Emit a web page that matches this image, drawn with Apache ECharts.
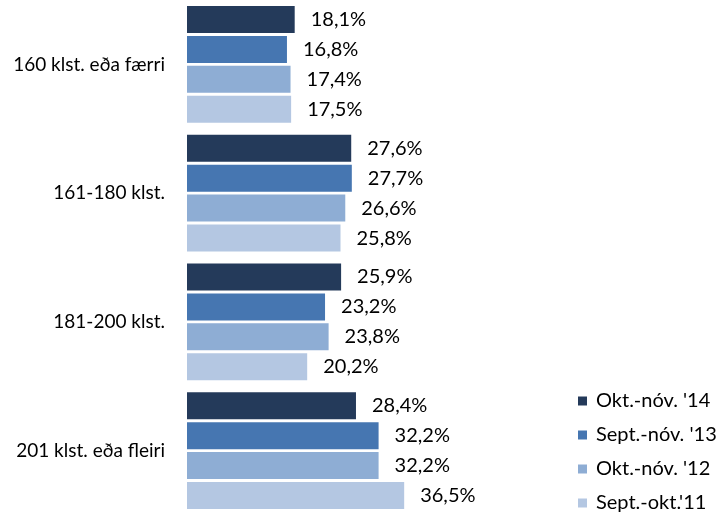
<!DOCTYPE html>
<html>
<head>
<meta charset="utf-8">
<script src="https://cdn.jsdelivr.net/npm/echarts@6/dist/echarts.min.js"></script>
<style>
html,body{margin:0;padding:0;background:#fff;}
#chart{width:724px;height:515px;}
</style>
</head>
<body>
<div id="chart"></div>
<script>
const categories = ['160 klst. eða færri', '161-180 klst.', '181-200 klst.', '201 klst. eða fleiri'];
const seriesNames = ["Okt.-nóv. '14", "Sept.-nóv. '13", "Okt.-nóv. '12", "Sept.-okt.'11"];
const okt14 = [18.1, 27.6, 25.9, 28.4];
const sept13 = [16.8, 27.7, 23.2, 32.2];
const okt12 = [17.4, 26.6, 23.8, 32.2];
const sept11 = [17.5, 25.8, 20.2, 36.5];
const seriesValues = [okt14, sept13, okt12, sept11];
const colors = ['#243A5A', '#4676B1', '#8EADD4', '#B4C7E2'];

const FONT = 'Lato';
const chart = echarts.init(document.getElementById('chart'));
chart.setOption({
  animation: false,
  textStyle: { fontFamily: FONT },
  grid: { left: 187, top: -1, width: 357, height: 520, containLabel: false },
  legend: {
    orient: 'vertical',
    left: 578,
    top: 391,
    padding: 0,
    itemWidth: 9,
    itemHeight: 9,
    itemGap: 14,
    icon: 'rect',
    data: seriesNames,
    textStyle: { fontFamily: FONT, fontSize: 20, color: '#000', lineHeight: 20, padding: [0, 0, 0, 4] }
  },
  xAxis: { type: 'value', min: 0, max: 60, show: false },
  yAxis: {
    type: 'category',
    data: categories,
    inverse: true,
    axisLine: { show: false },
    axisTick: { show: false },
    axisLabel: { margin: 22, fontFamily: FONT, fontSize: 19, color: '#000' }
  },
  series: seriesNames.map((name, i) => ({
    name: name,
    type: 'bar',
    data: seriesValues[i],
    barWidth: 27,
    barGap: '11%',
    itemStyle: { color: colors[i] },
    label: {
      show: true,
      position: 'right',
      distance: 16,
      fontFamily: FONT,
      fontSize: 20,
      color: '#000',
      formatter: p => p.value.toFixed(1).replace('.', ',') + '%'
    }
  }))
});
</script>
</body>
</html>
